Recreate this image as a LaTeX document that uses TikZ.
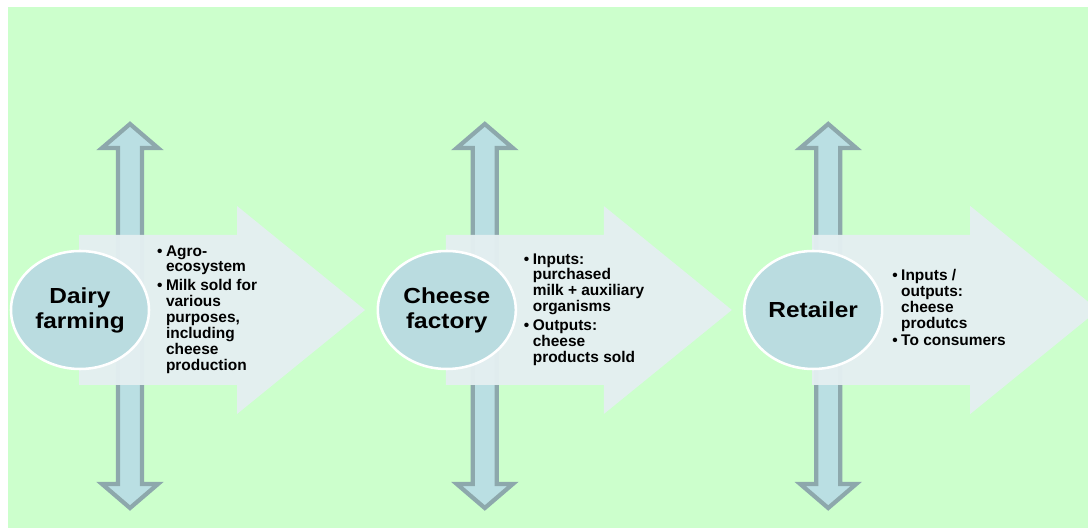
\documentclass[tikz,border=0pt]{standalone}
\usepackage{fontspec}
\setmainfont{Liberation Sans}
\newfontfamily\stagefont[FakeStretch=1.12]{Liberation Sans}
\usepackage{tikz}
\usetikzlibrary{positioning}
\usetikzlibrary{shapes.geometric}
\usepackage{xcolor}
\definecolor{bggreen}{HTML}{CCFFCC}
\definecolor{flowfill}{HTML}{E4EFF1}
\definecolor{updownfill}{HTML}{BADFE3}
\definecolor{updownline}{HTML}{8DA8AC}
\definecolor{stagefill}{HTML}{BADCE0}

\begin{document}
\begin{tikzpicture}[
  stage/.style={ellipse, draw=white, line width=1.8pt, fill=stagefill,
    minimum width=3.45cm, minimum height=2.95cm, inner sep=0pt, align=center,
    font=\stagefont\bfseries\fontsize{15.5}{17.7}\selectfont},
  bullets/.style={anchor=west, inner sep=0pt,
    font=\bfseries\fontsize{11}{11.2}\selectfont},
  updown/.style={fill=updownfill, draw=updownline, line width=3pt},
  flow/.style={fill=flowfill, fill opacity=0.96}
]

\useasboundingbox (0,0) rectangle (27.2,13.2);
\fill[bggreen] (0.2,0) rectangle (27.2,13.025);

\begin{scope}[xshift=0cm]
{
% arrows
{
\draw[updown] (3.25,10.1)--++(0.7,-0.6)--++(-0.4,0)--++(0,-8.4)--++(0.4,0)--++(-0.7,-0.6)--++(-0.7,0.6)--++(0.4,0)--++(0,8.4)--++(-0.4,0)--cycle;

\fill[flow] (1.975,3.575)--++(3.95,0)--++(0,-0.725)--++(3.2,2.6)--++(-3.2,2.6)--++(0,-0.725)--++(-3.95,0)--cycle;
}

% labellings
{
\node[stage] (dairy) at (2.0,5.45) {Dairy\\farming};

\node[bullets] (dairytext) at (3.92,5.45)
{\begin{tabular}{@{}l@{\hspace{2.5pt}}l@{}}
\textbullet & Agro-\\
 & ecosystem\\[2pt]
\textbullet & Milk sold for\\
 & various\\
 & purposes,\\
 & including\\
 & cheese\\
 & production
\end{tabular}};
}
}
\end{scope}

\begin{scope}[xshift=9.17cm]
{
% arrows
{
\draw[updown] (2.95,10.1)--++(0.7,-0.6)--++(-0.4,0)--++(0,-8.4)--++(0.4,0)--++(-0.7,-0.6)--++(-0.7,0.6)--++(0.4,0)--++(0,8.4)--++(-0.4,0)--cycle;

\fill[flow] (1.975,3.575)--++(3.95,0)--++(0,-0.725)--++(3.2,2.6)--++(-3.2,2.6)--++(0,-0.725)--++(-3.95,0)--cycle;
}

% labellings
{
\node[stage] (factory) at (2.0,5.45) {Cheese\\factory};

\node[bullets] (factorytext) at (3.92,5.45)
{\begin{tabular}{@{}l@{\hspace{2.5pt}}l@{}}
\textbullet & Inputs:\\
 & purchased\\
 & milk + auxiliary\\
 & organisms\\[2pt]
\textbullet & Outputs:\\
 & cheese\\
 & products sold
\end{tabular}};
}
}
\end{scope}

\begin{scope}[xshift=18.33cm]
{
% arrows
{
\draw[updown] (2.375,10.1)--++(0.7,-0.6)--++(-0.4,0)--++(0,-8.4)--++(0.4,0)--++(-0.7,-0.6)--++(-0.7,0.6)--++(0.4,0)--++(0,8.4)--++(-0.4,0)--cycle;

\fill[flow] (1.975,3.575)--++(3.95,0)--++(0,-0.725)--++(3.2,2.6)--++(-3.2,2.6)--++(0,-0.725)--++(-3.95,0)--cycle;
}

% labellings
{
\node[stage] (retailer) at (2.0,5.45) {Retailer};

\node[bullets] (retailertext) at (3.97,5.45)
{\begin{tabular}{@{}l@{\hspace{2.5pt}}l@{}}
\textbullet & Inputs /\\
 & outputs:\\
 & cheese\\
 & produtcs\\[1.5pt]
\textbullet & To consumers
\end{tabular}};
}
}
\end{scope}

\end{tikzpicture}
\end{document}
